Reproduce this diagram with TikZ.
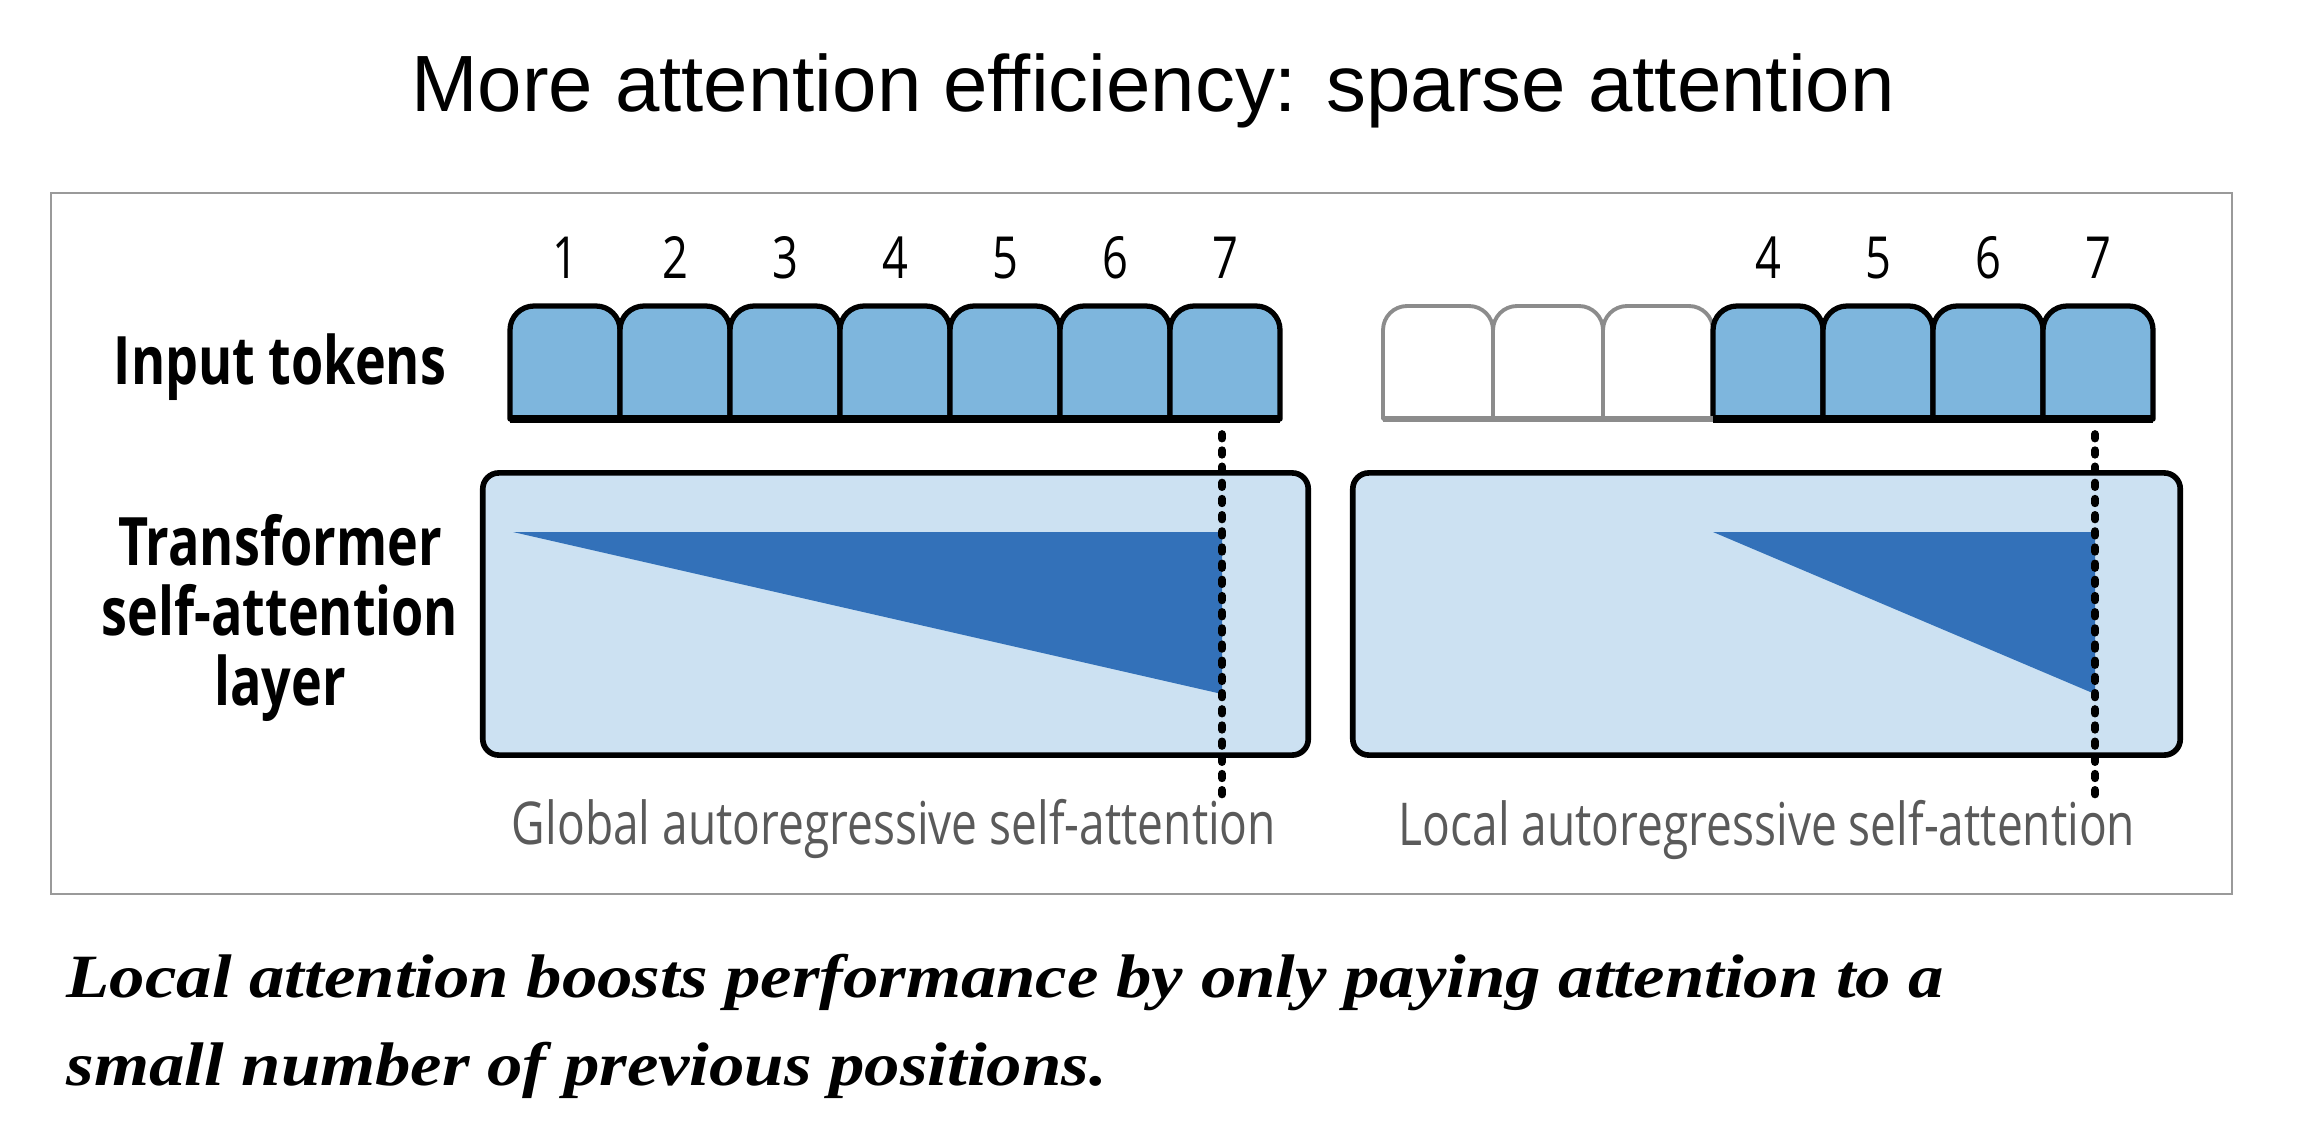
\documentclass[tikz,border=0pt]{standalone}
\usepackage{fontspec}
\setmainfont{Liberation Serif}
\newfontfamily\titlefont{Liberation Sans}
\newfontfamily\figfont[FakeStretch=0.78]{Open Sans}
\newfontfamily\notefont[FakeStretch=1.15]{Liberation Serif}
\usetikzlibrary{positioning}
\definecolor{tokblue}{HTML}{7EB6DD}
\definecolor{layblue}{HTML}{CCE1F2}
\definecolor{attblue}{HTML}{3371B9}
\definecolor{capgray}{HTML}{5A5A5A}
\definecolor{framegray}{HTML}{9A9A9A}
\definecolor{offgray}{HTML}{8C8C8C}

\begin{document}
\begin{tikzpicture}[x=0.01cm,y=-0.01cm,
  tok/.style={fill=tokblue,draw=black,line width=1.5pt,line join=round},
  tokoff/.style={fill=white,draw=offgray,line width=1.1pt,line join=round},
  layer/.style={draw=black,fill=layblue,line width=1.6pt,rounded corners=0.16cm,inner sep=0pt,minimum height=2.82cm},
  num/.style={font=\figfont\fontsize{16.5}{19}\selectfont,anchor=base},
  lbl/.style={font=\figfont\bfseries\fontsize{19}{20}\selectfont,align=center},
  caplbl/.style={font=\figfont\fontsize{16.8}{19}\selectfont,text=capgray,anchor=base},
  marker/.style={line width=2.2pt,line cap=round,dash pattern=on 1.3pt off 3.3pt}]
\useasboundingbox (0,0) rectangle (2298,1142);
\fill[white] (0,0) rectangle (2298,1142);
\node[font=\titlefont\fontsize{22.7}{26}\selectfont,anchor=base] (title) at (1153,111) {More attention efficiency: sparse attention};
\draw[framegray,line width=0.6pt] (51,193) rectangle (2232,894);
% global tokens
\foreach \i in {1,...,7}{
  \draw[tok] (400+110*\i,419) [rounded corners=0.24cm] -- ++(0,-113) -- ++(110,0) [sharp corners] -- ++(0,113) -- cycle;
  \node[num] (gn\i) at (455+110*\i,278) {\i};
}
\draw[line width=2.1pt] (510,419) -- (1280,419);
% local tokens
\foreach \i in {1,2,3}
  \draw[tokoff] (1273+110*\i,419) [rounded corners=0.24cm] -- ++(0,-113) -- ++(110,0) [sharp corners] -- ++(0,113) -- cycle;
\foreach \i in {4,...,7}{
  \draw[tok] (1273+110*\i,419) [rounded corners=0.24cm] -- ++(0,-113) -- ++(110,0) [sharp corners] -- ++(0,113) -- cycle;
  \node[num] (ln\i) at (1328+110*\i,278) {\i};
}
\draw[offgray,line width=1.6pt] (1383,419) -- (1713,419);
\draw[line width=2.1pt] (1713,419) -- (2153,419);
% left labels
\node[lbl,anchor=base] (inp) at (280,384) {Input tokens};
\node[lbl] (tsa) at (280,618) {Transformer\\self-attention\\layer};
% attention layers
\node[layer,minimum width=8.25cm] (glay) at (895.5,614) {};
\node[layer,minimum width=8.27cm] (llay) at (1766.5,614) {};
\fill[attblue] (513,532) -- (1222,532) -- (1222,694) -- cycle;
\fill[attblue] (1713,532) -- (2095,532) -- (2095,694) -- cycle;
\coordinate (gtop) at (1222,434); \coordinate (gbot) at (1222,798);
\coordinate (ltop) at (2095,434); \coordinate (lbot) at (2095,798);
\draw[marker] (gtop) -- (gbot);
\draw[marker] (ltop) -- (lbot);
\node[caplbl] (gcap) at (894,844) {Global autoregressive self-attention};
\node[caplbl] (lcap) at (1767,845) {Local autoregressive self-attention};
% caption below
\node[font=\notefont\bfseries\itshape\fontsize{17.5}{24.8}\selectfont,anchor=base west,align=left,inner sep=0pt] (note) at (66,1085) {Local attention boosts performance by only paying attention to a\\small number of previous positions.};
\end{tikzpicture}
\end{document}
